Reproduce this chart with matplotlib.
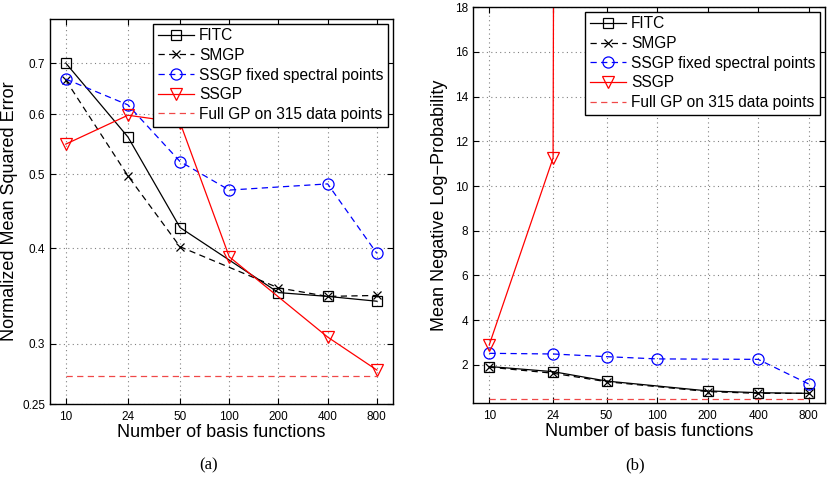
import numpy as np
import matplotlib.pyplot as plt
from matplotlib.ticker import FixedLocator, FixedFormatter, NullLocator

plt.rcParams['font.family'] = ['Liberation Sans', 'DejaVu Sans']

xticks = [10, 24, 50, 100, 200, 400, 800]

# series x positions (some points missing in the original)
x_fitc = [10, 24, 50, 200, 400, 800]
x_smgp = [10, 24, 50, 200, 400, 800]
x_fixed = [10, 24, 50, 100, 400, 800]
x_ssgp = [10, 24, 50, 100, 400, 800]
x_full = [10, 800]

# (a) normalized mean squared error
nmse_fitc = [0.700, 0.560, 0.426, 0.350, 0.346, 0.341]
nmse_smgp = [0.665, 0.498, 0.402, 0.355, 0.346, 0.347]
nmse_fixed = [0.667, 0.617, 0.520, 0.477, 0.486, 0.394]
nmse_ssgp = [0.548, 0.598, 0.585, 0.390, 0.306, 0.277]
nmse_full = [0.272, 0.272]

# (b) mean negative log-probability
mnlp_fitc = [1.93, 1.70, 1.28, 0.84, 0.76, 0.73]
mnlp_smgp = [1.90, 1.63, 1.25, 0.81, 0.73, 0.73]
mnlp_fixed = [2.52, 2.49, 2.37, 2.27, 2.25, 1.15]
mnlp_ssgp = [2.90, 11.25, 900.0, 800.0, 700.0, 600.0]
mnlp_full = [0.48, 0.48]

blue = '#0000ff'
red = '#ff0000'
lw = 0.9

fig = plt.figure(figsize=(8.32, 4.90), dpi=100)
ax1 = fig.add_axes([0.060, 0.1755, 0.412, 0.786])
ax2 = fig.add_axes([0.5685, 0.1776, 0.423, 0.808])


def draw(ax, fitc, smgp, fixed, ssgp, full):
    ax.plot(x_fitc, fitc, 'k-', marker='s', mfc='none', ms=6.5, lw=lw, mew=lw, label='FITC')
    ax.plot(x_smgp, smgp, 'k--', marker='x', ms=5.5, lw=lw, mew=lw, dashes=(5, 3.5), label='SMGP')
    ax.plot(x_fixed, fixed, '--', color=blue, marker='o', mfc='none', ms=8, lw=lw, mew=lw,
            dashes=(5, 3.5), label='SSGP fixed spectral points')
    ax.plot(x_ssgp, ssgp, '-', color=red, marker='v', mfc='none', ms=8.5, lw=lw, mew=lw, label='SSGP')
    ax.plot(x_full, full, '--', color='#f04848', lw=lw, dashes=(5, 3.5), label='Full GP on 315 data points')
    ax.set_xscale('log')
    ax.set_xlim(8, 1000)
    ax.xaxis.set_major_locator(FixedLocator(xticks))
    ax.xaxis.set_major_formatter(FixedFormatter([str(t) for t in xticks]))
    ax.xaxis.set_minor_locator(NullLocator())
    ax.tick_params(which='both', direction='in', top=True, right=True, labelsize=8.5, length=4, width=0.8)
    ax.tick_params(axis='x', pad=5)
    ax.grid(True, linestyle=(0, (1, 3)), color='0.5', lw=0.8)
    ax.set_xlabel('Number of basis functions', fontsize=13, labelpad=1)
    for s in ax.spines.values():
        s.set_linewidth(1.0)
    leg = ax.legend(loc='upper right', fontsize=11.2, fancybox=False, framealpha=1,
                    edgecolor='k', borderaxespad=0.3, handlelength=2.3, labelspacing=0.3,
                    handletextpad=0.35, borderpad=0.3)
    leg.get_frame().set_linewidth(1.0)


draw(ax1, nmse_fitc, nmse_smgp, nmse_fixed, nmse_ssgp, nmse_full)
ax1.set_yscale('log')
ax1.set_ylim(0.25, 0.80)
yt1 = [0.25, 0.3, 0.4, 0.5, 0.6, 0.7]
ax1.yaxis.set_major_locator(FixedLocator(yt1))
ax1.yaxis.set_major_formatter(FixedFormatter([str(t) for t in yt1]))
ax1.yaxis.set_minor_locator(NullLocator())
ax1.set_ylabel('Normalized Mean Squared Error', fontsize=13, labelpad=3)

draw(ax2, mnlp_fitc, mnlp_smgp, mnlp_fixed, mnlp_ssgp, mnlp_full)
ax2.set_ylim(0.3, 18)
ax2.set_yticks([2, 4, 6, 8, 10, 12, 14, 16, 18])
ax2.set_ylabel('Mean Negative Log\u2212Probability', fontsize=13, labelpad=5)

fig.text(0.251, 0.051, '(a)', fontsize=12, family='Liberation Serif', ha='center', va='center')
fig.text(0.763, 0.051, '(b)', fontsize=12, family='Liberation Serif', ha='center', va='center')

fig.savefig('out.png', dpi=100)
